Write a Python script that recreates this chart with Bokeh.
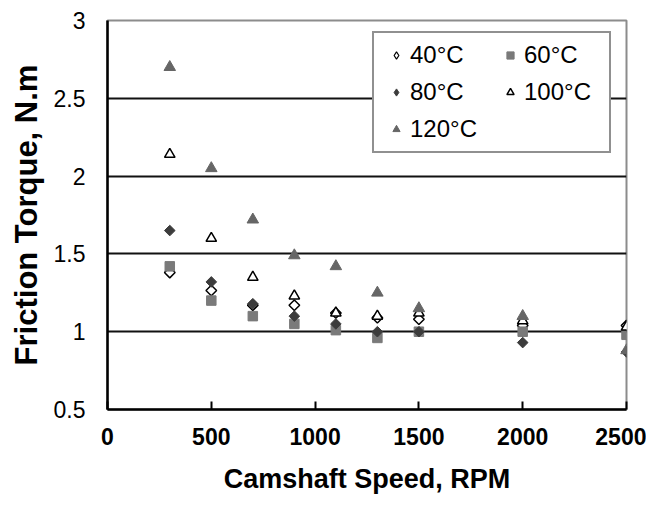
from bokeh.plotting import figure
from bokeh.models import Range1d, FixedTicker, Legend, LegendItem
from bokeh.embed import file_html
from bokeh.resources import INLINE
import math

rpm = [300, 500, 700, 900, 1100, 1300, 1500, 2000, 2500]
t40 = [1.38, 1.265, 1.17, 1.17, 1.12, 1.09, 1.08, 1.04, 1.04]
t60 = [1.42, 1.20, 1.10, 1.05, 1.01, 0.96, 1.00, 1.00, 0.98]
t80 = [1.65, 1.32, 1.18, 1.10, 1.05, 1.00, 1.00, 0.93, 0.87]
t100 = [2.14, 1.60, 1.35, 1.23, 1.12, 1.10, 1.12, 1.07, 1.03]
t120 = [2.70, 2.05, 1.72, 1.49, 1.42, 1.25, 1.15, 1.10, 0.88]

x_ticks = [0, 500, 1000, 1500, 2000, 2500]
y_ticks = [0.5, 1, 1.5, 2, 2.5, 3]
y_tick_labels = ["0.5", "1", "1.5", "2", "2.5", "3"]
grid_ticks = [1, 1.5, 2, 2.5]

FONT = "Liberation Sans"

p = figure(width=646, height=497, output_backend="svg", toolbar_location=None,
           x_range=Range1d(0, 2500), y_range=Range1d(0.5, 3),
           min_border_left=107, min_border_top=20, min_border_right=20, min_border_bottom=88)
p.background_fill_color = "white"
p.border_fill_color = "white"
p.outline_line_color = "#8c8c8c"
p.outline_line_width = 2

p.xgrid.visible = False
p.ygrid.ticker = FixedTicker(ticks=grid_ticks)
p.ygrid.grid_line_color = "#111111"
p.ygrid.grid_line_width = 2

p.xaxis.ticker = FixedTicker(ticks=x_ticks)
p.yaxis.ticker = FixedTicker(ticks=y_ticks)
p.yaxis.major_label_overrides = {t: l for t, l in zip(y_ticks, y_tick_labels)}

for ax in (p.xaxis[0], p.yaxis[0]):
    ax.axis_line_color = "black"
    ax.axis_line_width = 2.5
    ax.minor_tick_line_color = None
    ax.major_tick_line_color = "black"
    ax.major_tick_line_width = 2
    ax.major_label_text_font = FONT
    ax.major_label_text_color = "black"
    ax.axis_label_text_font = FONT
    ax.axis_label_text_font_style = "bold"
    ax.axis_label_text_color = "black"

p.xaxis.major_tick_in = 8
p.xaxis.major_tick_out = 0
p.yaxis.major_tick_in = 0
p.yaxis.major_tick_out = 0
p.xaxis.major_label_text_font_size = "23px"
p.xaxis.major_label_text_font_style = "bold"
p.yaxis.major_label_text_font_size = "23px"
p.xaxis.major_label_standoff = 18
p.yaxis.major_label_standoff = 22
p.xaxis.axis_label = "Camshaft Speed, RPM"
p.yaxis.axis_label = "Friction Torque, N.m"
p.xaxis.axis_label_text_font_size = "27px"
p.yaxis.axis_label_text_font_size = "31px"
p.xaxis.axis_label_standoff = 16
p.yaxis.axis_label_standoff = 7

r40 = p.scatter(rpm, t40, marker="square", angle=math.pi / 4, size=7.5,
                fill_color="white", line_color="black", line_width=1.5)
r60 = p.scatter(rpm, t60, marker="square", size=9.5,
                fill_color="#7a7a7a", line_color="#7a7a7a")
r80 = p.scatter(rpm, t80, marker="square", angle=math.pi / 4, size=7.5,
                fill_color="#3c3c3c", line_color="#3c3c3c")
r100 = p.scatter(rpm, t100, marker="triangle", size=10.5,
                 fill_color="white", line_color="black", line_width=1.5)
r120 = p.scatter(rpm, t120, marker="triangle", size=11.5,
                 fill_color="#666666", line_color="#666666")

# hidden key-only renderers (same data) so the legend shows diamond symbols
k40 = p.scatter(rpm, t40, marker="diamond", size=10, visible=False,
                fill_color="white", line_color="black", line_width=1.2)
k80 = p.scatter(rpm, t80, marker="diamond", size=10, visible=False,
                fill_color="#3c3c3c", line_color="#3c3c3c")

legend = Legend(items=[
    LegendItem(label="40°C", renderers=[k40]),
    LegendItem(label="60°C", renderers=[r60]),
    LegendItem(label="80°C", renderers=[k80]),
    LegendItem(label="100°C", renderers=[r100]),
    LegendItem(label="120°C", renderers=[r120]),
], orientation="horizontal", ncols=2)
legend.location = (265, 256)
legend.margin = 0
legend.padding = 8
legend.spacing = 9
legend.label_text_font = FONT
legend.label_text_font_size = "24px"
legend.label_text_color = "black"
legend.label_height = 28
legend.label_width = 77
legend.glyph_height = 18
legend.glyph_width = 28
legend.label_standoff = 0
legend.border_line_color = "#222222"
legend.border_line_width = 2
legend.background_fill_color = "white"
legend.background_fill_alpha = 1
p.add_layout(legend)

open("out.html", "w").write(file_html(p, INLINE))
